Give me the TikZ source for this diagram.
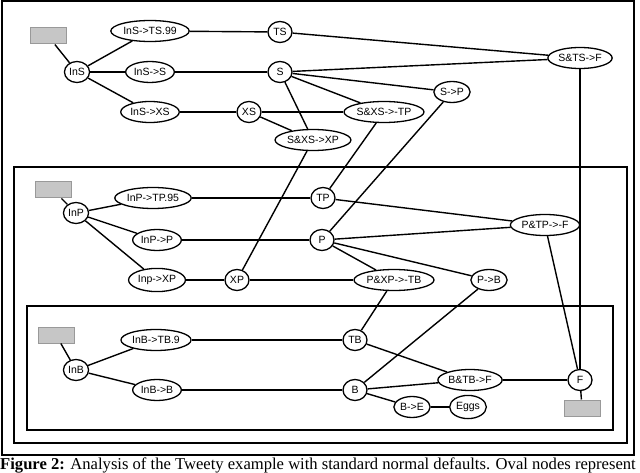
\documentclass[tikz,border=0pt]{standalone}
\usepackage{fontspec}
\setmainfont{Liberation Serif}
\newfontfamily\nodefont{Liberation Sans}
\usetikzlibrary{shapes.geometric}
\begin{document}
\begin{tikzpicture}[x=1pt,y=-1pt,
  ov/.style={draw,ellipse,line width=1.3pt,font=\nodefont\fontsize{10.5}{11}\selectfont,inner xsep=1pt,inner ysep=3.5pt,minimum width=24pt,minimum height=21pt,fill=white},
  gbox/.style={draw=gray!80,fill=gray!45,line width=1pt,minimum width=36pt,minimum height=16pt,inner sep=0pt},
  ed/.style={line width=1.4pt},
  fr/.style={line width=1.2pt}]
\useasboundingbox (0,0) rectangle (640,473);
\draw[fr] (2,1) rectangle (634,455);
\draw[fr] (14,167) rectangle (627,443);
\draw[fr] (27,306) rectangle (613,430);
\node[gbox] (g1) at (48,36) {};
\node[ov] (InS) at (77,72) {InS};
\node[ov] (InSTS) at (150,31) {InS->TS.99};
\node[ov] (TS) at (280,32) {TS};
\node[ov] (STSF) at (580,58) {S\&TS->F};
\node[ov] (InSS) at (150,72) {InS->S};
\node[ov] (S) at (280,72) {S};
\node[ov] (SP) at (452,92) {S->P};
\node[ov] (InSXS) at (150,112) {InS->XS};
\node[ov] (XS) at (249,112) {XS};
\node[ov] (SXSTP) at (384,112) {S\&XS->-TP};
\node[ov] (SXSXP) at (313,140) {S\&XS->XP};
\node[gbox] (g2) at (53,190) {};
\node[ov] (InP) at (76,213) {InP};
\node[ov] (InPTP) at (153,198) {InP->TP.95};
\node[ov] (TP) at (323,198) {TP};
\node[ov] (PTPF) at (545,225) {P\&TP->-F};
\node[ov] (InPP) at (157,240) {InP->P};
\node[ov] (P) at (322,240) {P};
\node[ov] (PB) at (489,280) {P->B};
\node[ov] (InPXP) at (157,280) {Inp->XP};
\node[ov] (XP) at (237,280) {XP};
\node[ov] (PXPTB) at (394,280) {P\&XP->-TB};
\node[gbox] (g3) at (56,335) {};
\node[ov] (InB) at (76,370) {InB};
\node[ov] (InBTB) at (156,340) {InB->TB.9};
\node[ov] (TB) at (355,340) {TB};
\node[ov] (BTBF) at (470,380) {B\&TB->F};
\node[ov] (F) at (580,380) {F};
\node[ov] (InBB) at (157,390) {InB->B};
\node[ov] (B) at (355,390) {B};
\node[ov] (BE) at (412,407) {B->E};
\node[ov] (Eggs) at (468,407) {Eggs};
\node[gbox] (g4) at (582,408) {};
\foreach \a/\b in {g1/InS,InS/InSTS,InS/InSS,InS/InSXS,InSTS/TS,TS/STSF,InSS/S,S/STSF,S/SP,S/SXSTP,S/SXSXP,InSXS/XS,XS/SXSTP,XS/SXSXP,SXSXP/XP,SXSTP/TP,SP/P,STSF/F,
 g2/InP,InP/InPTP,InP/InPP,InP/InPXP,InPTP/TP,TP/PTPF,InPP/P,P/PTPF,P/PB,P/PXPTB,InPXP/XP,XP/PXPTB,PXPTB/TB,PB/B,PTPF/F,
 g3/InB,InB/InBTB,InB/InBB,InBTB/TB,TB/BTBF,InBB/B,B/BTBF,B/BE,BE/Eggs,BTBF/F,F/g4}
  \draw[ed] (\a) -- (\b);
\node[anchor=base west,inner sep=0pt,font=\fontsize{16.6}{17}\selectfont] (cap) at (0,469) {\textbf{Figure 2:} Analysis of the Tweety example with standard normal defaults. Oval nodes represent};
\end{tikzpicture}
\end{document}
